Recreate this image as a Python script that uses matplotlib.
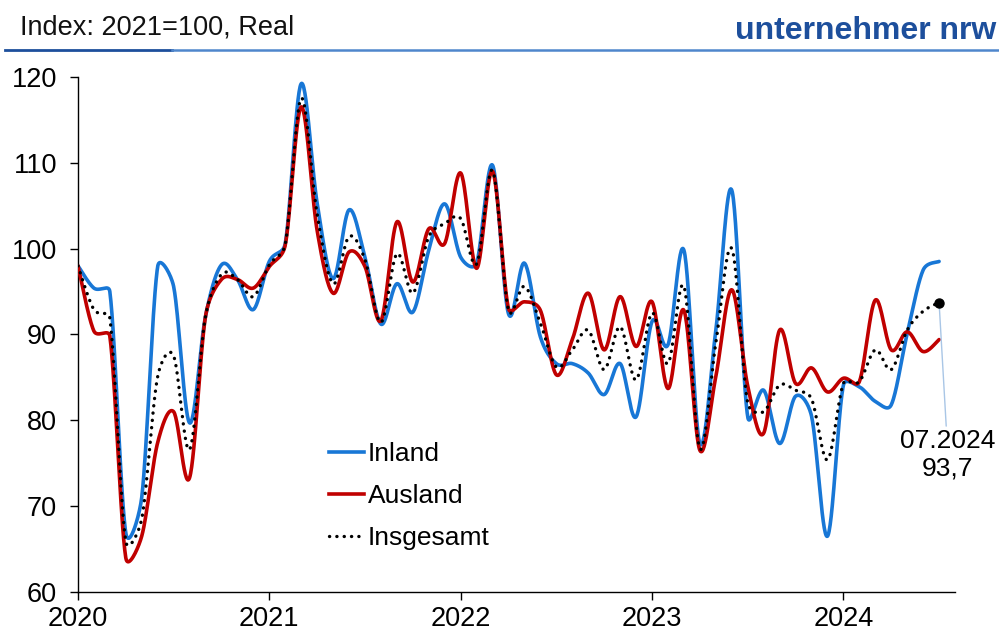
import numpy as np
import matplotlib
matplotlib.use('Agg')
import matplotlib.pyplot as plt
from matplotlib.lines import Line2D

# Monthly values 01.2020 .. 07.2024 (Index 2021=100, real)
inland = [98.0, 95.4, 95.0, 66.9, 71.0, 97.9, 95.6, 79.7, 92.1, 98.1, 96.4, 92.9,
          98.5, 100.6, 119.2, 105.3, 96.5, 104.5, 99.0, 91.2, 95.9, 92.6, 99.8, 105.2,
          99.0, 98.3, 109.7, 92.4, 98.3, 89.7, 86.6, 86.6, 85.5, 83.0, 86.6, 80.4,
          91.5, 88.8, 99.8, 77.3, 90.5, 106.8, 80.4, 83.5, 77.3, 82.8, 80.5, 66.5,
          84.1, 83.9, 82.2, 81.8, 90.1, 97.5, 98.5]
ausland = [98.0, 90.4, 89.8, 64.0, 66.5, 77.4, 81.0, 73.3, 92.1, 96.4, 96.4, 95.4,
           97.9, 100.4, 116.5, 102.1, 94.8, 99.6, 97.9, 91.6, 103.1, 96.1, 102.3, 100.6,
           108.8, 97.7, 109.0, 93.0, 93.8, 92.8, 85.3, 89.4, 94.8, 88.2, 94.4, 88.6,
           93.8, 83.7, 92.8, 76.5, 85.1, 95.2, 84.0, 78.5, 90.5, 84.3, 86.1, 83.3,
           84.9, 84.5, 94.0, 88.2, 90.3, 88.0, 89.4]
insgesamt = [98.0, 92.9, 91.9, 65.9, 68.5, 85.1, 87.5, 76.6, 92.1, 97.0, 96.4, 94.4,
             98.1, 100.5, 117.5, 104.0, 95.9, 101.4, 98.7, 91.4, 99.4, 94.8, 101.4, 102.9,
             103.5, 98.2, 109.1, 92.8, 95.6, 91.3, 86.2, 88.2, 90.5, 85.9, 90.9, 84.7,
             92.5, 86.6, 95.6, 76.7, 89.0, 100.0, 82.0, 81.0, 84.1, 83.5, 82.5, 75.4,
             84.3, 84.5, 88.2, 85.9, 90.5, 92.7, 93.7]
year_ticks = [0, 12, 24, 36, 48]
year_labels = ['2020', '2021', '2022', '2023', '2024']
series_names = ['Inland', 'Ausland', 'Insgesamt']
last_label = '07.2024\n93,7'

# screen scale (pixels per month / per index point) used for the smoothing
SX, SY = 15.93, 8.59


def smooth(values, k=30):
    """Excel-like smoothed line: Bezier arms (P[i+1]-P[i-1])/6, clamped to half the chord."""
    y = np.asarray(values, float)
    n = len(y)
    P = np.column_stack([np.arange(n) * SX, y * SY])
    t = np.linspace(0, 1, k, endpoint=False)[:, None]
    segs = []
    for i in range(n - 1):
        p0 = P[i - 1] if i > 0 else P[i]
        p1, p2 = P[i], P[i + 1]
        p3 = P[i + 2] if i + 2 < n else P[i + 1]
        half = np.hypot(*(p2 - p1)) / 2.0
        a1 = (p2 - p0) / 6.0
        a2 = (p3 - p1) / 6.0
        l1, l2 = np.hypot(*a1), np.hypot(*a2)
        if l1 > half:
            a1 = a1 * half / l1
        if l2 > half:
            a2 = a2 * half / l2
        c1 = p1 + a1
        c2 = p2 - a2
        b = ((1 - t) ** 3 * p1 + 3 * (1 - t) ** 2 * t * c1
             + 3 * (1 - t) * t ** 2 * c2 + t ** 3 * p2)
        segs.append(b)
    segs.append(P[-1:])
    C = np.vstack(segs)
    return C[:, 0] / SX, C[:, 1] / SY


plt.rcParams['font.family'] = ['Liberation Sans', 'DejaVu Sans']

BLUE = '#1877d6'
RED = '#c00000'
DOTS = (0, (0.05, 2.15))

fig = plt.figure(figsize=(9.99, 6.35), dpi=100)
ax = fig.add_axes([0.078, 0.0677, 0.878, 0.8113])

xb, yb = smooth(inland)
ax.plot(xb, yb, color=BLUE, lw=2.6, solid_capstyle='round', solid_joinstyle='round', zorder=2)
xr, yr = smooth(ausland)
ax.plot(xr, yr, color=RED, lw=2.6, solid_capstyle='round', solid_joinstyle='round', zorder=3)
xk, yk = smooth(insgesamt)
ax.plot(xk, yk, color='black', lw=2.4, linestyle=DOTS,
        dash_capstyle='round', zorder=4)

n = len(insgesamt)
ax.plot([n - 1], [insgesamt[-1]], 'o', color='black', ms=6.5, zorder=5)
ax.annotate(last_label, xy=(n - 1, insgesamt[-1]), xytext=(n - 0.45, 79.0),
            textcoords='data', ha='center', va='top', fontsize=19, linespacing=1.2,
            arrowprops=dict(arrowstyle='-', color='#a9c6e6', lw=1.0,
                            shrinkA=0, shrinkB=2), annotation_clip=False)

ax.set_xlim(0, 55)
ax.set_ylim(60, 120)
ax.set_yticks(np.arange(60, 121, 10))
ax.set_xticks(year_ticks)
ax.set_xticklabels(year_labels)
for s in ['top', 'right']:
    ax.spines[s].set_visible(False)
for s in ['left', 'bottom']:
    ax.spines[s].set_linewidth(1.0)
ax.tick_params(axis='both', direction='out', length=6, width=1.0,
               labelsize=19.5, colors='black')
ax.tick_params(axis='y', pad=9)
ax.tick_params(axis='x', pad=4)

handles = [Line2D([], [], color=BLUE, lw=2.6),
           Line2D([], [], color=RED, lw=2.6),
           Line2D([], [], color='black', lw=2.4, linestyle=DOTS,
                  dash_capstyle='round')]
leg = fig.legend(handles, series_names, loc='upper left',
                 bbox_to_anchor=(0.329, 0.304), bbox_transform=fig.transFigure,
                 frameon=False, fontsize=19, handlelength=1.35, handletextpad=0.12,
                 labelspacing=0.68, borderpad=0, borderaxespad=0)

# header
fig.text(0.020, 1 - 27 / 635, 'Index: 2021=100, Real', fontsize=19.5,
         ha='left', va='center', color='#111111')
fig.text(0.997, 1 - 31 / 635, 'unternehmer nrw', fontsize=23, fontweight='bold',
         ha='right', va='center', color='#1d4f9c')
fig.add_artist(Line2D([0.005, 0.172], [1 - 50 / 635] * 2, color='#1d4f9c', lw=2.0,
                      transform=fig.transFigure))
fig.add_artist(Line2D([0.172, 1.0], [1 - 50 / 635] * 2, color='#4f86cc', lw=1.8,
                      transform=fig.transFigure))

fig.savefig('out.png', dpi=100)
